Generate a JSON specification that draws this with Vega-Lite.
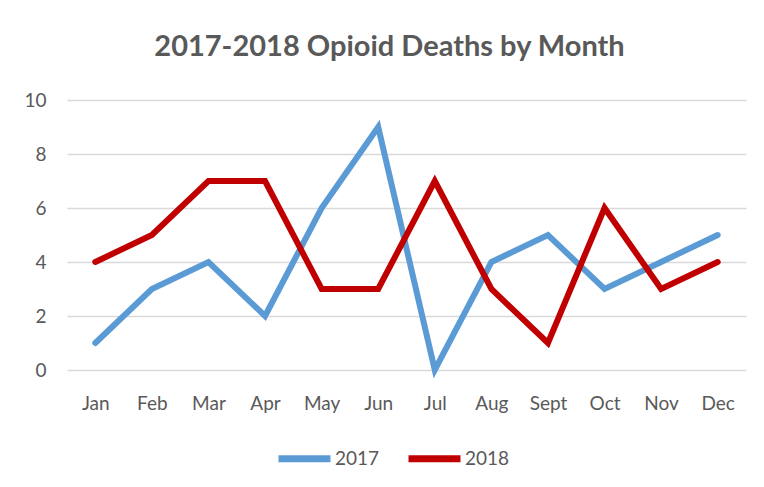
{
  "$schema": "https://vega.github.io/schema/vega-lite/v6.json",
  "autosize": "none",
  "width": 679,
  "height": 270,
  "padding": {"left": 67, "top": 100, "right": 18, "bottom": 117},
  "background": "white",
  "title": {
    "text": "2017-2018 Opioid Deaths by Month",
    "font": "Lato",
    "fontSize": 29,
    "fontWeight": "bold",
    "color": "#595959",
    "anchor": "middle",
    "dx": -17,
    "offset": 29
  },
  "data": {
    "values": [
      {"month": "Jan", "year": "2017", "deaths": 1},
      {"month": "Feb", "year": "2017", "deaths": 3},
      {"month": "Mar", "year": "2017", "deaths": 4},
      {"month": "Apr", "year": "2017", "deaths": 2},
      {"month": "May", "year": "2017", "deaths": 6},
      {"month": "Jun", "year": "2017", "deaths": 9},
      {"month": "Jul", "year": "2017", "deaths": 0},
      {"month": "Aug", "year": "2017", "deaths": 4},
      {"month": "Sept", "year": "2017", "deaths": 5},
      {"month": "Oct", "year": "2017", "deaths": 3},
      {"month": "Nov", "year": "2017", "deaths": 4},
      {"month": "Dec", "year": "2017", "deaths": 5},
      {"month": "Jan", "year": "2018", "deaths": 4},
      {"month": "Feb", "year": "2018", "deaths": 5},
      {"month": "Mar", "year": "2018", "deaths": 7},
      {"month": "Apr", "year": "2018", "deaths": 7},
      {"month": "May", "year": "2018", "deaths": 3},
      {"month": "Jun", "year": "2018", "deaths": 3},
      {"month": "Jul", "year": "2018", "deaths": 7},
      {"month": "Aug", "year": "2018", "deaths": 3},
      {"month": "Sept", "year": "2018", "deaths": 1},
      {"month": "Oct", "year": "2018", "deaths": 6},
      {"month": "Nov", "year": "2018", "deaths": 3},
      {"month": "Dec", "year": "2018", "deaths": 4}
    ]
  },
  "mark": {"type": "line", "strokeWidth": 6, "strokeCap": "round", "strokeJoin": "miter"},
  "encoding": {
    "x": {
      "field": "month",
      "type": "ordinal",
      "sort": ["Jan", "Feb", "Mar", "Apr", "May", "Jun", "Jul", "Aug", "Sept", "Oct", "Nov", "Dec"],
      "scale": {"type": "point", "padding": 0.5},
      "axis": {
        "title": null,
        "labelAngle": 0,
        "domain": false,
        "ticks": false,
        "grid": false,
        "labelPadding": 24,
        "labelFont": "Lato",
        "labelFontSize": 19,
        "labelColor": "#595959"
      }
    },
    "y": {
      "field": "deaths",
      "type": "quantitative",
      "scale": {"domain": [0, 10], "nice": false},
      "axis": {
        "title": null,
        "values": [0, 2, 4, 6, 8, 10],
        "domain": false,
        "ticks": false,
        "grid": true,
        "gridColor": "#d9d9d9",
        "gridWidth": 1.5,
        "labelPadding": 21,
        "labelFont": "Lato",
        "labelFontSize": 19,
        "labelColor": "#595959"
      }
    },
    "color": {
      "field": "year",
      "type": "nominal",
      "scale": {"domain": ["2017", "2018"], "range": ["#5b9bd5", "#c00000"]},
      "legend": {
        "title": null,
        "orient": "none",
        "legendX": 208,
        "legendY": 329,
        "direction": "horizontal",
        "symbolType": "stroke",
        "symbolSize": 2700,
        "symbolStrokeWidth": 7,
        "labelFont": "Lato",
        "labelFontSize": 19,
        "labelColor": "#595959",
        "labelOffset": 1,
        "columnPadding": 14
      }
    }
  },
  "config": {
    "view": {"stroke": null}
  }
}
